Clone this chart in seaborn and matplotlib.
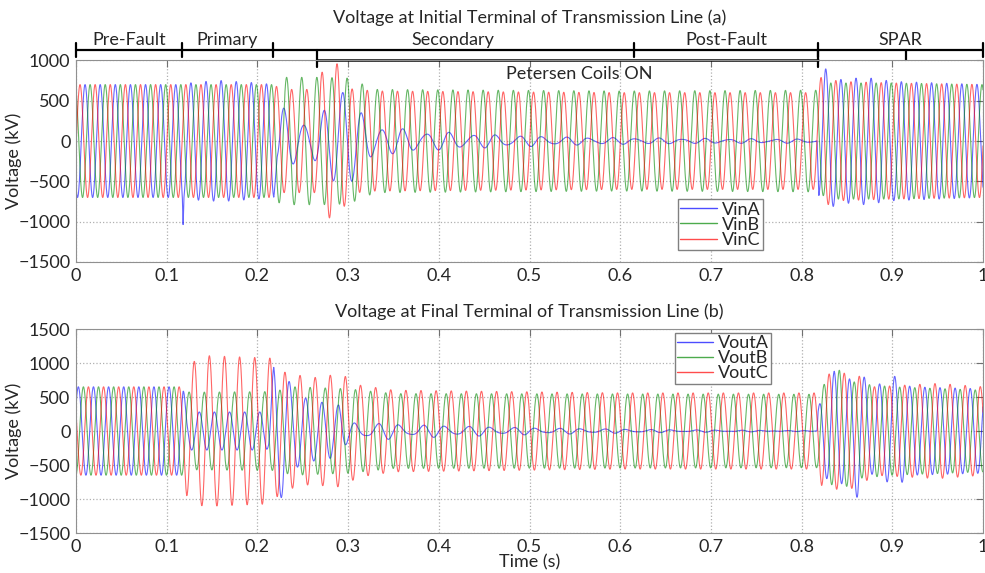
import numpy as np
import pandas as pd
import seaborn as sns
import matplotlib.pyplot as plt

# ---- values (kV, s) ----
f_grid = 60.0
# 60 Hz envelope knots, initial terminal (a)
vin_a_t = [0, 0.118, 0.13, 0.16, 0.2, 0.218, 0.222, 0.3, 0.4, 0.6, 0.817, 0.819, 0.826, 0.84, 0.87, 0.9, 1.0]
vin_a_amp = [700, 700, 730, 750, 720, 700, 110, 50, 20, 8, 6, 700, 900, 760, 790, 740, 700]
vin_b_t = [0, 0.118, 0.218, 0.226, 0.27, 0.3, 0.33, 0.6, 0.817, 0.83, 0.9, 1.0]
vin_b_amp = [700, 700, 700, 790, 790, 780, 640, 620, 630, 720, 720, 700]
vin_c_t = [0, 0.118, 0.218, 0.226, 0.265, 0.274, 0.292, 0.3, 0.33, 0.6, 0.817, 0.822, 0.84, 0.9, 1.0]
vin_c_amp = [700, 700, 700, 640, 640, 950, 960, 650, 620, 600, 600, 820, 740, 720, 700]
# open-phase (A) resonance with the Petersen coils
vin_a_res_t = [0.218, 0.225, 0.245, 0.26, 0.285, 0.295, 0.31, 0.33, 0.36, 0.45, 0.55, 0.7, 0.817, 0.818]
vin_a_res_amp = [0, 380, 300, 260, 450, 560, 420, 180, 120, 70, 40, 25, 20, 0]
vin_a_res_ft = [0.218, 0.33, 0.36, 0.818]
vin_a_res_f = [47, 47, 39, 39]
vin_a_res_peak = 0.294
vin_spike_t = [0.118]
vin_spike_v = [-340]

# 60 Hz envelope knots, final terminal (b)
vout_a_t = [0, 0.118, 0.122, 0.21, 0.218, 0.3, 0.4, 0.6, 0.817, 0.818, 0.823, 0.836, 0.85, 0.862, 0.875, 0.905, 0.92, 1.0]
vout_a_amp = [650, 650, 280, 280, 120, 50, 20, 8, 5, 300, 600, 880, 700, 1000, 620, 820, 650, 620]
vout_b_t = [0, 0.118, 0.125, 0.218, 0.24, 0.3, 0.35, 0.817, 0.822, 0.842, 0.86, 0.9, 1.0]
vout_b_amp = [650, 650, 570, 580, 650, 620, 550, 540, 650, 900, 700, 650, 600]
vout_c_t = [0, 0.118, 0.122, 0.14, 0.218, 0.225, 0.26, 0.28, 0.295, 0.31, 0.35, 0.6, 0.817, 0.822, 0.835, 0.86, 0.88, 0.95, 1.0]
vout_c_amp = [650, 650, 950, 1110, 1070, 880, 780, 820, 820, 680, 600, 560, 560, 800, 860, 840, 650, 700, 650]
vout_a_res_t = [0.212, 0.218, 0.228, 0.24, 0.26, 0.29, 0.3, 0.33, 0.4, 0.5, 0.65, 0.817]
vout_a_res_amp = [0, 880, 880, 450, 370, 370, 150, 90, 70, 40, 15, 0]
vout_a_res_ft = [0.212, 0.3, 0.32, 0.818]
vout_a_res_f = [55, 55, 40, 40]
vout_a_res_peak = 0.217

# phase angle of phase A at t=0 (deg)
vin_theta = 145
vout_theta = 305

stage_edges = [0, 0.117, 0.217, 0.615, 0.818, 1.0]
stage_names = ['Pre-Fault', 'Primary', 'Secondary', 'Post-Fault', 'SPAR']
coil_span = [0.266, 0.818]

t = np.linspace(0, 1, 20001)


def resonance(kt, ka, ft, fv, t_peak):
    f = np.interp(t, ft, fv)
    ph = np.cumsum(f) * (t[1] - t[0]) * 2 * np.pi
    ph = ph - np.interp(t_peak, t, ph)
    return np.interp(t, kt, ka, left=0, right=0) * np.cos(ph)


def phase(kt, ka, theta):
    return np.interp(t, kt, ka) * np.cos(2 * np.pi * f_grid * t + np.deg2rad(theta))


vin = {
    'VinA': phase(vin_a_t, vin_a_amp, vin_theta)
    + resonance(vin_a_res_t, vin_a_res_amp, vin_a_res_ft, vin_a_res_f, vin_a_res_peak)
    + sum(v * np.exp(-((t - s) / 0.0006) ** 2) for s, v in zip(vin_spike_t, vin_spike_v)),
    'VinB': phase(vin_b_t, vin_b_amp, vin_theta - 120),
    'VinC': phase(vin_c_t, vin_c_amp, vin_theta + 120),
}
vout = {
    'VoutA': phase(vout_a_t, vout_a_amp, vout_theta)
    + resonance(vout_a_res_t, vout_a_res_amp, vout_a_res_ft, vout_a_res_f, vout_a_res_peak),
    'VoutB': phase(vout_b_t, vout_b_amp, vout_theta - 120),
    'VoutC': phase(vout_c_t, vout_c_amp, vout_theta + 120),
}

sns.set_style('white')
plt.rcParams['font.family'] = ['Lato', 'DejaVu Sans']
fs = 13

fig = plt.figure(figsize=(9.85, 5.73), dpi=100)
ax1 = fig.add_axes([0.0772, 0.5428, 0.9208, 0.3518])
ax2 = fig.add_axes([0.0772, 0.0698, 0.9208, 0.3560])
colors = ['#0000ff', '#008800', '#ff0000']


def draw(ax, series, ylim, yticks):
    df = pd.DataFrame(series)
    df['t'] = t
    long = df.melt(id_vars='t', var_name='phase', value_name='v')
    names = list(series.keys())
    sns.lineplot(data=long, x='t', y='v', hue='phase', palette=dict(zip(names, colors)),
                 estimator=None, sort=False, lw=0.8, alpha=0.6, ax=ax, legend=False)
    ax.set_xlim(0, 1)
    ax.set_ylim(*ylim)
    ax.set_yticks(yticks)
    ax.set_xticks(np.arange(0, 1.01, 0.1))
    ax.set_xticklabels(['0', '0.1', '0.2', '0.3', '0.4', '0.5', '0.6', '0.7', '0.8', '0.9', '1'])
    ax.grid(True, ls=':', color='#b0b0b0', lw=0.9)
    for s in ax.spines.values():
        s.set_color('#909090')
    ax.tick_params(direction='in', top=True, right=True, length=5, color='#707070',
                   labelsize=fs, pad=4)
    ax.set_ylabel('Voltage (kV)', fontsize=fs)
    ax.yaxis.set_label_coords(-0.06, 0.5)
    ax.set_xlabel('')
    handles = [plt.Line2D([], [], color=c, lw=1, alpha=0.7) for c in colors]
    return handles, names


legend_kw = dict(loc='upper left', fontsize=fs, fancybox=False, edgecolor='#808080',
                 framealpha=1, handlelength=2.0, labelspacing=-0.05, borderpad=0.12,
                 handletextpad=0.3, borderaxespad=0)
h, n = draw(ax1, vin, (-1500, 1000), range(-1500, 1001, 500))
ax1.legend(h, n, bbox_to_anchor=(0.664, 0.31), **legend_kw)
h, n = draw(ax2, vout, (-1500, 1500), range(-1500, 1501, 500))
ax2.legend(h, n, bbox_to_anchor=(0.660, 0.98), **legend_kw)
ax2.set_xlabel('Time (s)', fontsize=fs, labelpad=0)

ax1.text(0.5, 1.21, 'Voltage at Initial Terminal of Transmission Line (a)',
         transform=ax1.transAxes, ha='center', va='center', fontsize=fs)
ax2.text(0.5, 1.085, 'Voltage at Final Terminal of Transmission Line (b)',
         transform=ax2.transAxes, ha='center', va='center', fontsize=fs)

# stage bars above the top axes
tr = ax1.get_xaxis_transform()
y_hi, y_lo = 1.05, 1.003
ax1.plot([0, 1], [y_hi, y_hi], color='black', lw=1.6, transform=tr, clip_on=False)
for x in stage_edges:
    ax1.plot([x, x], [y_hi - 0.035, y_hi + 0.035], color='black', lw=1.6, transform=tr, clip_on=False)
ax1.plot([0.915, 0.915], [y_lo, y_hi], color='black', lw=1.6, transform=tr, clip_on=False)
for a, b, name in zip(stage_edges[:-1], stage_edges[1:], stage_names):
    ax1.text((a + b) / 2, y_hi + 0.012, name, transform=tr, ha='center', va='bottom', fontsize=fs)
ax1.plot(coil_span, [y_lo, y_lo], color='black', lw=1.8, transform=tr, clip_on=False)
for x in coil_span:
    ax1.plot([x, x], [y_lo - 0.035, y_hi], color='black', lw=1.6, transform=tr, clip_on=False)
ax1.text(sum(coil_span) / 2 + 0.013, y_lo - 0.03, 'Petersen Coils ON', transform=tr,
         ha='center', va='top', fontsize=fs)

fig.savefig('out.png', dpi=100)
